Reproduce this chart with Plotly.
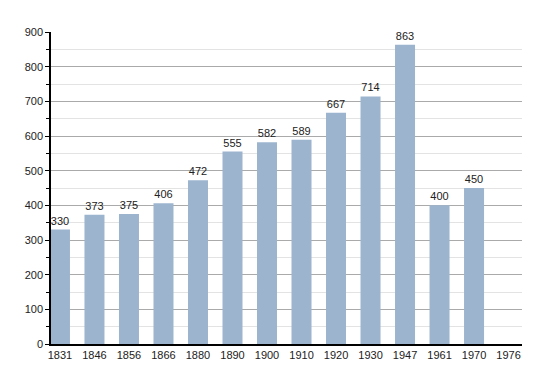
import plotly.graph_objects as go

years = ["1831", "1846", "1856", "1866", "1880", "1890", "1900", "1910", "1920", "1930", "1947", "1961", "1970", "1976"]
population = [330, 373, 375, 406, 472, 555, 582, 589, 667, 714, 863, 400, 450, None]
labels = [str(v) if v is not None else "" for v in population]

fig = go.Figure()
fig.add_trace(go.Bar(
    x=list(range(len(years))),
    y=population,
    text=labels,
    textposition="outside",
    textfont=dict(size=11, color="#222222", family="Liberation Sans, Arial, sans-serif"),
    marker=dict(color="#9db4cf", line=dict(width=0)),
    width=0.58,
    cliponaxis=False,
))

fig.update_layout(
    width=550, height=373,
    margin=dict(l=43, r=36, t=24, b=37, autoexpand=False),
    paper_bgcolor="white", plot_bgcolor="white",
    showlegend=False,
    font=dict(family="Liberation Sans, Arial, sans-serif", size=11, color="#222222"),
    xaxis=dict(
        tickmode="array", tickvals=list(range(len(years))), ticktext=years,
        range=[-0.26, 13.39], showgrid=False, zeroline=False,
        showline=True, linecolor="black", linewidth=1.5, ticks="",
        tickfont=dict(size=11), automargin=False,
    ),
    yaxis=dict(
        range=[0, 900], dtick=100, tick0=0, showgrid=True, gridcolor="#aaaaaa", gridwidth=1,
        zeroline=False, showline=True, linecolor="black", linewidth=1.5,
        ticks="outside", ticklen=4, tickcolor="black",
        tickfont=dict(size=11), automargin=False,
        minor=dict(dtick=50, tick0=0, showgrid=True, gridcolor="#e3e3e3", gridwidth=1,
                   ticks="outside", ticklen=3, tickcolor="black"),
    ),
)

fig.write_html("out.html")
